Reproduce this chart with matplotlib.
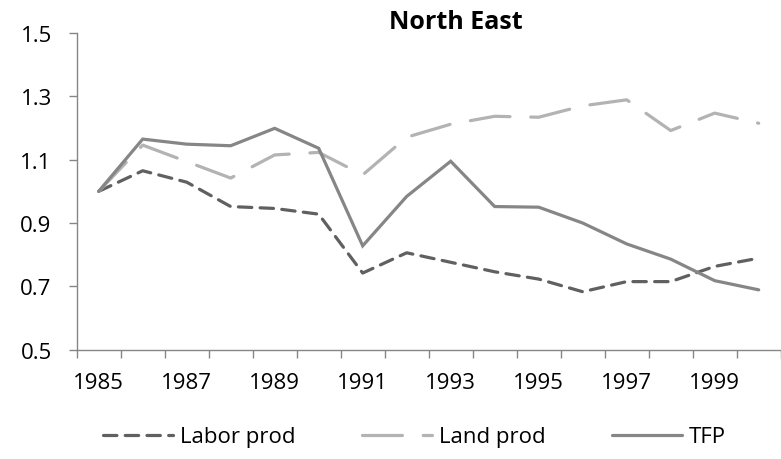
import numpy as np
import matplotlib
matplotlib.use("Agg")
import matplotlib.pyplot as plt

plt.rcParams['font.family'] = ['Open Sans', 'DejaVu Sans']

years = list(range(1985, 2001))
labor_prod = [1.000, 1.065, 1.029, 0.952, 0.946, 0.928, 0.742, 0.806,
              0.776, 0.746, 0.723, 0.683, 0.715, 0.715, 0.763, 0.789]
land_prod = [1.000, 1.146, 1.094, 1.042, 1.115, 1.123, 1.052, 1.171,
             1.212, 1.237, 1.234, 1.270, 1.289, 1.192, 1.247, 1.215]
tfp = [1.000, 1.165, 1.149, 1.144, 1.199, 1.136, 0.828, 0.984,
       1.095, 0.952, 0.950, 0.900, 0.834, 0.786, 0.718, 0.689]
yticks = [0.5, 0.7, 0.9, 1.1, 1.3, 1.5]

fig = plt.figure(figsize=(7.81, 4.60), dpi=100)
ax = fig.add_axes([0.0982, 0.2376, 0.9014, 0.6885])

x = np.arange(len(years))
lw = 2.3
ax.plot(x, labor_prod, color='#606060', lw=lw, linestyle=(0, (4.2, 2.6)),
        dash_capstyle='round', solid_capstyle='round', label='Labor prod')
ax.plot(x, land_prod, color='#b3b3b3', lw=lw, linestyle=(0, (12.5, 6.5)),
        dash_capstyle='round', solid_capstyle='round', label='Land prod')
ax.plot(x, tfp, color='#868686', lw=lw, solid_capstyle='round',
        solid_joinstyle='miter', label='TFP')

ax.set_xlim(-0.5, len(years) - 0.5)
ax.set_ylim(0.5, 1.5)

# tick marks between categories, labels on every other year
ax.set_xticks(np.arange(-0.5, len(years), 1.0))
ax.set_xticklabels([])
ax.set_xticks(x[::2], minor=True)
ax.set_xticklabels([str(y) for y in years[::2]], minor=True)
ax.tick_params(axis='x', which='major', length=6, width=1, color='#868686',
               direction='out')
ax.tick_params(axis='x', which='minor', length=0, pad=16, labelsize=16)

ax.set_yticks(yticks)
ax.set_yticklabels([f'{v:.1f}' for v in yticks])
ax.tick_params(axis='y', length=6, width=1, color='#868686', pad=12,
               labelsize=16)

for side in ['top', 'right']:
    ax.spines[side].set_visible(False)
for side in ['left', 'bottom']:
    ax.spines[side].set_color('#868686')
    ax.spines[side].set_linewidth(1.0)

fig.text(0.584, 0.952, 'North East', ha='center', va='center',
         fontsize=18, fontweight='bold')

fig.legend(loc='center', bbox_to_anchor=(0.531, 0.048), ncol=3,
           frameon=False, fontsize=16, handlelength=3.15,
           handletextpad=0.3, columnspacing=3.0)

fig.savefig('out.png', dpi=100)
